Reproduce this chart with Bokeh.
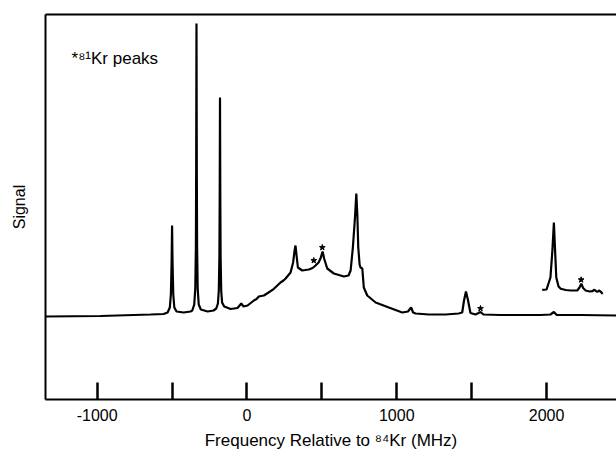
from bokeh.plotting import figure
from bokeh.models import Range1d, FixedTicker, LinearAxis, Label
from bokeh.embed import file_html
from bokeh.resources import INLINE

# ---- data (frequency in MHz relative to 84Kr, signal in arbitrary units) ----
spectrum_freq = [
    -1345, -977, -644, -557, -530, -515, -508, -503, -500, -497, -492, -485,
    -470, -423, -377, -365, -352, -345, -341, -339, -337, -335, -333, -329,
    -322, -308, -263, -223, -205, -194, -188, -184, -182, -180, -178, -176,
    -172, -166, -152, -109, -63, -38, -23, 4, 46, 64, 79, 113, 144, 180, 224,
    244, 258, 291, 308, 318, 324, 331, 340, 369, 413, 438, 458, 478, 491, 505,
    515, 536, 580, 647, 678, 692, 707, 722, 730, 737, 743, 752, 758, 770, 780,
    803, 859, 947, 1037, 1075, 1096, 1109, 1126, 1214, 1326, 1413, 1437, 1449,
    1462, 1476, 1492, 1526, 1559, 1579, 1692, 1960, 2026, 2049, 2066, 2227, 2467,
]
spectrum_signal = [
    0, 0.5, 2, 2.5, 4, 9, 22, 55, 91, 55, 22, 9,
    5, 4, 5, 6, 12, 28, 70, 150, 293, 150, 70, 28,
    12, 7, 5, 6, 8, 13, 26, 60, 120, 219, 120, 60,
    26, 14, 10, 7.5, 8.5, 13, 10, 11, 16, 17.5, 20, 21, 24, 27.7, 34,
    36, 38, 44, 54, 66, 71, 61, 49, 46, 47, 48.5, 51, 54, 58, 65,
    58, 48, 43, 40, 41, 46, 69, 101, 123, 101, 69, 52, 49, 48, 29,
    21, 14, 9, 4, 5, 9, 4, 3, 2, 2, 3, 4, 16,
    25, 16, 3.5, 2, 4.5, 2, 1.5, 1.5, 2, 4.5, 1.7, 1.5, 1,
]

# expanded (offset) trace of the 2000 MHz region
inset_freq = [
    1971, 2000, 2026, 2039, 2049, 2057, 2065, 2080, 2095, 2128, 2161, 2205,
    2220, 2232, 2244, 2261, 2287, 2305, 2320, 2338, 2350, 2365, 2374,
]
inset_signal = [
    26.7, 27, 39, 66, 94, 66, 39, 30, 27.7, 26.5, 26, 26,
    29, 32.7, 28.5, 26, 25, 25.3, 26.7, 24.5, 26, 24.3, 22.5,
]

# 81Kr peak markers
star_freq = [446, 503, 1559, 2231]
star_signal = [56, 69, 8, 36.7]

major_ticks = [-1000, 0, 1000, 2000]
tick_labels = ["-1000", "0", "1000", "2000"]
minor_ticks = [-500, 500, 1500, 2500]

x_title = "Frequency Relative to \u2078\u2074Kr (MHz)"
y_title = "Signal"
note = "*\u2078\u00b9Kr peaks"

FONT = "Liberation Sans"

p = figure(
    width=616, height=454,
    x_range=Range1d(-1345, 2467), y_range=Range1d(-83, 302),
    output_backend="svg", toolbar_location=None,
    min_border_left=45, min_border_right=0, min_border_top=14, min_border_bottom=55,
)
p.outline_line_color = None
p.xgrid.visible = False
p.ygrid.visible = False
p.background_fill_color = "white"
p.border_fill_color = "white"

# bottom axis
xa = p.xaxis[0]
xa.ticker = FixedTicker(ticks=major_ticks, minor_ticks=minor_ticks)
xa.major_label_overrides = {t: s for t, s in zip(major_ticks, tick_labels)}
xa.major_tick_in = 17
xa.major_tick_out = 0
xa.minor_tick_in = 17
xa.minor_tick_out = 0
xa.major_tick_line_width = 2.5
xa.minor_tick_line_width = 2.5
xa.axis_line_width = 2
xa.major_label_text_font = FONT
xa.major_label_text_font_size = "16px"
xa.major_label_text_color = "black"
xa.major_label_standoff = 9
xa.axis_label = x_title
xa.axis_label_text_font = FONT
xa.axis_label_text_font_size = "17px"
xa.axis_label_text_font_style = "normal"
xa.axis_label_text_color = "black"
xa.axis_label_standoff = 7

# left axis
ya = p.yaxis[0]
ya.ticker = FixedTicker(ticks=[])
ya.major_label_text_font_size = "0px"
ya.major_tick_line_color = None
ya.minor_tick_line_color = None
ya.axis_line_width = 2
ya.axis_label = y_title
ya.axis_label_text_font = FONT
ya.axis_label_text_font_size = "16px"
ya.axis_label_text_font_style = "normal"
ya.axis_label_text_color = "black"
ya.axis_label_standoff = 18

# top frame line
top = LinearAxis(ticker=FixedTicker(ticks=[]), major_label_text_font_size="0px",
                 major_tick_line_color=None, minor_tick_line_color=None,
                 axis_line_width=2)
p.add_layout(top, "above")

p.line(spectrum_freq, spectrum_signal, line_width=2.2, color="black")
p.line(inset_freq, inset_signal, line_width=2.2, color="black")
p.scatter(star_freq, star_signal, marker="star", size=6, color="black")

p.add_layout(Label(x=-1171, y=258, text=note, text_font=FONT,
                   text_font_size="17px", text_color="black",
                   text_baseline="alphabetic", text_align="left"))

open("out.html", "w").write(file_html(p, INLINE))
